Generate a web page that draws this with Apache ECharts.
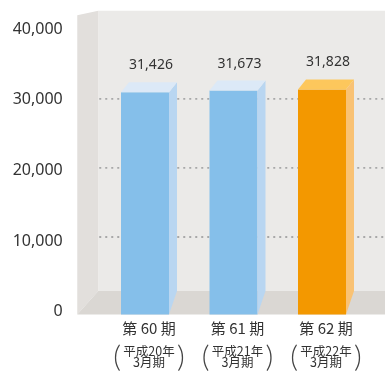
<!DOCTYPE html>
<html>
<head>
<meta charset="utf-8">
<script src="https://cdn.jsdelivr.net/npm/echarts@6/dist/echarts.min.js"></script>
<style>
  html, body { margin: 0; padding: 0; background: #fff; }
  #chart { width: 385px; height: 372px; }
</style>
</head>
<body>
<div id="chart"></div>
<script>
// Fiscal periods, their era-year captions and the values shown on each bar
const periods = ['第 60 期', '第 61 期', '第 62 期'];
const eraYears = ['平成20年', '平成21年', '平成22年'];
const closingMonths = ['3月期', '3月期', '3月期'];
const values = [31426, 31673, 31828];
const yTicks = [0, 10000, 20000, 30000, 40000];

const NUM_FONT = '"Noto Sans", "Noto Sans CJK JP", sans-serif';
const JP_FONT = '"Noto Sans CJK JP", "Noto Sans", sans-serif';

// Face colours for the prism bars; the latest period is highlighted
const blueFaces = { front: '#85bfea', side: '#b9d6f1', top: '#dce9f7' };
const orangeFaces = { front: '#f39800', side: '#f9c274', top: '#fdc75c' };

function withCommas(v) {
  return String(Math.round(v)).replace(/\B(?=(\d{3})+(?!\d))/g, ',');
}

const chart = echarts.init(document.getElementById('chart'));

// Depth of the box that the bars stand in
const BOX_DX = 21, BOX_DY = -23.4;

function renderBox(params, api) {
  const cs = params.coordSys;
  const yMax = yTicks[yTicks.length - 1];
  const y0 = api.coord([0, 0])[1];
  const yTop = api.coord([0, yMax])[1];
  const W = api.getWidth();
  const fl = cs.x - 27.5;
  const bl = fl + BOX_DX;
  const floorBack = y0 + BOX_DY;
  const topFront = yTop - 16.4;
  const topBack = yTop - 21;
  const children = [
    { type: 'rect', shape: { x: bl, y: topBack, width: W - bl, height: floorBack - topBack },
      style: { fill: '#ebeae8' } },
    { type: 'polygon', shape: { points: [[fl, topFront], [bl, topBack], [bl, floorBack], [fl, y0]] },
      style: { fill: '#e2dfdc' } },
    { type: 'polygon', shape: { points: [[fl, y0], [bl, floorBack], [W, floorBack], [W, y0]] },
      style: { fill: '#dad7d3' } }
  ];
  // dotted guides on the back wall
  yTicks.forEach(function (v) {
    if (v <= 0 || v >= yMax) return;
    const yf = api.coord([0, v])[1];
    const yb = y0 - 0.9776 * (y0 - yf) - 8.3;
    children.push({
      type: 'line',
      shape: { x1: bl + 1, y1: yb, x2: W, y2: yb },
      style: { stroke: '#a8a8a8', lineWidth: 1.8, lineDash: [2, 4] }
    });
  });
  return { type: 'group', children: children };
}

function renderPrism(params, api) {
  const idx = api.value(0);
  const v = api.value(1);
  const base = api.coord([idx, 0]);
  const top = api.coord([idx, v]);
  const faces = idx === values.length - 1 ? orangeFaces : blueFaces;
  const cx = base[0];
  const fl = cx - 28, fr = cx + 20;
  const dx = 8, dy = -10;
  const floorBack = base[1] + BOX_DY;
  return {
    type: 'group',
    children: [
      { type: 'rect', shape: { x: fl, y: top[1], width: fr - fl, height: base[1] - top[1] },
        style: { fill: faces.front } },
      { type: 'polygon',
        shape: { points: [[fr, top[1]], [fr + dx, top[1] + dy], [fr + dx, floorBack], [fr, base[1]]] },
        style: { fill: faces.side } },
      { type: 'polygon',
        shape: { points: [[fl, top[1]], [fl + dx, top[1] + dy], [fr + dx, top[1] + dy], [fr, top[1]]] },
        style: { fill: faces.top } },
      { type: 'text',
        style: { text: withCommas(v), x: cx + 2, y: top[1] - 27, align: 'center', verticalAlign: 'middle',
                 fontSize: 14, fontFamily: NUM_FONT, fill: '#333' } }
    ]
  };
}

function hiddenAxis(extra) {
  return Object.assign({
    type: 'category',
    data: periods,
    position: 'bottom',
    gridIndex: 0,
    axisLine: { show: false },
    axisTick: { show: false },
    splitLine: { show: false }
  }, extra);
}

chart.setOption({
  animation: false,
  backgroundColor: '#fff',
  grid: { left: 104.75, right: 14.75, top: 31.7, bottom: 55.3, containLabel: false },
  xAxis: [
    hiddenAxis({
      axisLabel: { margin: 13.8, verticalAlign: 'middle', fontSize: 15, fontFamily: JP_FONT, color: '#333',
                   formatter: function (v, i) { return periods[i]; } }
    }),
    hiddenAxis({
      axisLabel: { margin: 36.8, verticalAlign: 'middle', fontSize: 12.5, fontFamily: JP_FONT, color: '#333',
                   formatter: function (v, i) { return eraYears[i]; } }
    }),
    hiddenAxis({
      axisLabel: { margin: 47.6, verticalAlign: 'middle', fontSize: 12.5, fontFamily: JP_FONT, color: '#333',
                   formatter: function (v, i) { return closingMonths[i]; } }
    }),
    hiddenAxis({
      axisLabel: {
        margin: 42.6, verticalAlign: 'middle',
        formatter: function () { return '{p|(}{g|}{p|)}'; },
        rich: {
          p: { fontSize: 30, fontFamily: 'Lato, "Open Sans", sans-serif', fontWeight: 300, color: '#444' },
          g: { width: 56 }
        }
      }
    })
  ],
  yAxis: {
    type: 'value',
    min: 0,
    max: 40000,
    interval: 10000,
    axisLine: { show: false },
    axisTick: { show: false },
    splitLine: { show: false },
    axisLabel: {
      margin: 42,
      fontSize: 16,
      fontFamily: NUM_FONT,
      color: '#333',
      verticalAlign: 'bottom',
      lineHeight: 5,
      formatter: function (v) { return withCommas(v); }
    }
  },
  series: [
    {
      type: 'custom',
      name: 'box',
      silent: true,
      clip: false,
      xAxisIndex: 0,
      z: 1,
      renderItem: renderBox,
      data: [[0, 0]]
    },
    {
      type: 'custom',
      name: 'values',
      clip: false,
      xAxisIndex: 0,
      z: 2,
      renderItem: renderPrism,
      encode: { x: 0, y: 1 },
      data: values.map(function (v, i) { return [i, v]; })
    }
  ]
});
</script>
</body>
</html>
